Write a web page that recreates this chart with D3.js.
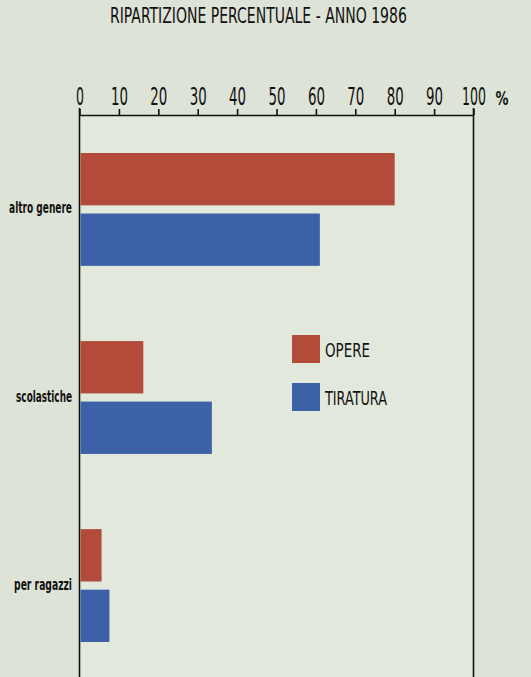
<!DOCTYPE html>
<html><head><meta charset="utf-8">
<script src="https://cdn.jsdelivr.net/npm/d3@7"></script>
<style>
html,body{margin:0;padding:0;background:#dde3d6;}
svg{display:block;}
text{font-family:"Liberation Sans Narrow","DejaVu Sans Condensed","Liberation Sans",sans-serif;fill:#111;}
</style></head>
<body><svg id="c" width="531" height="677"></svg>
<script>
const title = "RIPARTIZIONE PERCENTUALE - ANNO 1986";
const categories = ["altro genere", "scolastiche", "per ragazzi"];
const seriesNames = ["OPERE", "TIRATURA"];
const opere = [80, 16.2, 5.6];
const tiratura = [61, 33.6, 7.6];
const tickValues = [0, 10, 20, 30, 40, 50, 60, 70, 80, 90, 100];
const unitLabel = "%";
const colors = ["#b34b3b", "#3d61a7"];

const svg = d3.select("#c");
const left = 79.5, right = 473.5, axisY = 115;
const x = d3.scaleLinear().domain([0, 100]).range([left, right]);
const y = d3.scaleBand().domain(categories).range([153, 642]).paddingInner(0.4).paddingOuter(0);
const ys = d3.scaleBand().domain(seriesNames).range([0, y.bandwidth()]).paddingInner(0.135);

// squeeze a text horizontally to a target width (anchor-preserving)
function squeeze(node, tx, ty, w) {
  const L = node.getComputedTextLength();
  const s = L > 0 ? w / L : 1;
  d3.select(node).attr("x", 0).attr("y", 0)
    .attr("transform", `translate(${tx},${ty}) scale(${s},1)`);
}

// plot panel background
svg.append("rect").attr("x", left).attr("y", axisY).attr("width", right - left).attr("height", 677 - axisY)
  .attr("fill", "#e2e8dc");

// title
const tt = svg.append("text").attr("font-size", 21).text(title);
squeeze(tt.node(), 110, 23, 297);

// axis
const axis = d3.axisTop(x).tickValues(tickValues).tickSize(6).tickPadding(4).tickSizeOuter(0);
const g = svg.append("g").attr("transform", `translate(0,${axisY})`).call(axis);
g.select(".domain").attr("stroke", "#111").attr("stroke-width", 1.6);
g.selectAll(".tick line").attr("stroke", "#111").attr("stroke-width", 1.6);
g.selectAll(".tick text").attr("font-size", 24).attr("fill", "#111").attr("dy", null)
  .attr("font-family", "'Liberation Sans Narrow','DejaVu Sans Condensed',sans-serif")
  .each(function(d){
    const n = String(d).length;
    const w = n === 1 ? 8 : (n === 2 ? 17 : 24);
    squeeze(this, 0, -10, w);
  });
const pt = svg.append("text").attr("font-size", 19).attr("font-weight", "bold")
  .attr("text-anchor", "middle").text(unitLabel);
squeeze(pt.node(), 502, 105, 13);

// frame verticals
[0, 100].forEach(v => {
  svg.append("line").attr("x1", x(v)).attr("x2", x(v)).attr("y1", axisY - 7).attr("y2", 677)
    .attr("stroke", "#111").attr("stroke-width", 1.6);
});

// bars
const data = categories.map((c, i) => ({c, vals: [opere[i], tiratura[i]]}));
const grp = svg.append("g").selectAll("g").data(data).join("g")
  .attr("transform", d => `translate(0,${y(d.c)})`);
grp.selectAll("rect").data(d => d.vals.map((v, j) => ({s: seriesNames[j], v, j}))).join("rect")
  .attr("x", x(0) + 1).attr("y", d => ys(d.s)).attr("height", ys.bandwidth())
  .attr("width", d => x(d.v) - x(0) - 1).attr("fill", d => colors[d.j]);

// category labels
const labelW = {"altro genere": 63, "scolastiche": 56, "per ragazzi": 58};
svg.append("g").selectAll("text").data(categories).join("text")
  .attr("text-anchor", "end").attr("font-size", 15).attr("font-weight", "bold")
  .text(d => d)
  .each(function(d){ squeeze(this, 72, y(d) + y.bandwidth() / 2 + 4, labelW[d]); });

// legend
const leg = svg.append("g").selectAll("g").data(seriesNames).join("g")
  .attr("transform", (d, i) => `translate(292,${335 + i * 48})`);
leg.append("rect").attr("width", 28).attr("height", 28).attr("fill", (d, i) => colors[i]);
leg.append("text").attr("font-size", 19).text(d => d)
  .each(function(d, i){ squeeze(this, 33, 22, i === 0 ? 45 : 62); });
</script></body></html>
